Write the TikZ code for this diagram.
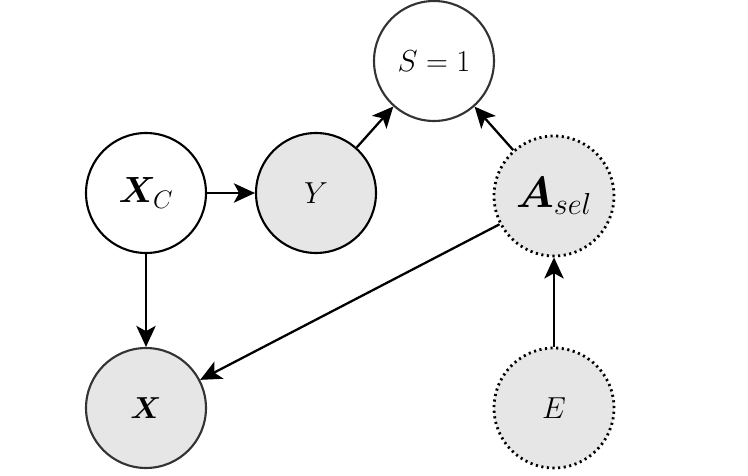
\documentclass[tikz,border=0pt]{standalone}
\usepackage{amsmath,amssymb,bm}
\usepackage{tikz}
\usetikzlibrary{arrows.meta}
\definecolor{vfill}{HTML}{E6E6E6}
\definecolor{vline}{HTML}{333333}

\begin{document}
\begin{tikzpicture}[x=0.02cm, y=-0.02cm, font=\fontsize{18}{21}\selectfont,
  var/.style={circle, draw=black, line width=1.2pt, minimum size=2.4cm, inner sep=0pt},
  obs/.style={var, fill=vfill},
  latent/.style={obs, dotted, line width=1.6pt},
  arr/.style={-{Stealth[length=12pt, width=11pt, inset=3pt]}, line width=1.3pt}]
\useasboundingbox (0,0) rectangle (748,476);
% variables
\node[var, draw=vline] (s) at (434,61) {$S=1$};
\node[var, font=\fontsize{20}{24}\selectfont] (xc) at (146,193) {$\bm{X}_C$};
\node[obs] (y) at (316,193) {$Y$};
\node[latent, font=\fontsize{23}{27}\selectfont] (asel) at (554,196) {$\bm{A}_{sel}$};
\node[obs, draw=vline] (x) at (146,408) {$\bm{X}$};
\node[latent] (e) at (554,408) {$E$};
% edges
\draw[arr] (xc) -- (y);
\draw[arr] (y) -- (s);
\draw[arr] (asel) -- (s);
\draw[arr] (e) -- (asel);
\draw[arr] (asel) -- (x);
\draw[arr] (xc) -- (x);
\end{tikzpicture}
\end{document}
